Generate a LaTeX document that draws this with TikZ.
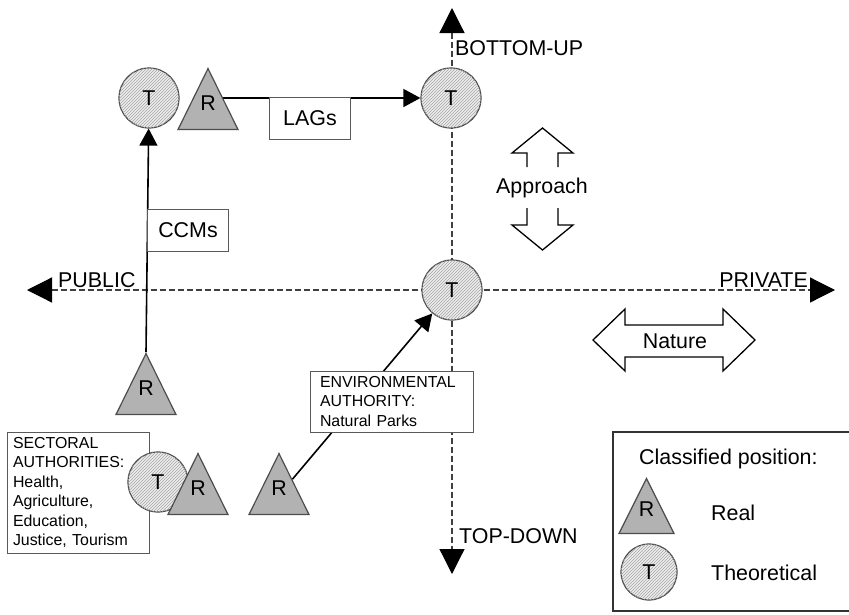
\documentclass[tikz,border=0pt]{standalone}
\usepackage{fontspec}
\setmainfont{Liberation Sans}
\usetikzlibrary{positioning}
\usetikzlibrary{shapes.geometric,arrows.meta,patterns,backgrounds}

\newcommand\lblfont{\fontsize{21.4}{25}\selectfont}
\newcommand\notefont{\fontsize{15.9}{19.5}\selectfont}

\tikzset{
  theo/.style={circle,draw=black!70,line width=1.2pt,fill=black!7,
    postaction={pattern=north east lines,pattern color=black!35},
    minimum size=60pt,inner sep=0pt,font=\lblfont},
  real/.style={isosceles triangle,shape border rotate=90,isosceles triangle stretches,
    draw=black!70,line width=1.2pt,fill=black!30,text depth=14pt,
    minimum width=60pt,minimum height=61pt,inner sep=0pt,font=\lblfont},
  lbl/.style={draw=black!65,line width=1pt,fill=white,font=\lblfont,
    minimum width=81pt,minimum height=42pt},
  note/.style={draw=black!65,line width=1pt,fill=white,font=\notefont,align=left},
  axis/.style={black!75,line width=1.2pt,dash pattern=on 6pt off 3pt,
    arrows={Triangle[length=25pt,width=25pt,color=black]-Triangle[length=25pt,width=25pt,color=black]}},
  conn/.style={line width=1.6pt,-{Triangle[length=17pt,width=18pt]}},
  blockarrow/.style={line width=1.3pt,line join=miter},
}

\begin{document}
\begin{tikzpicture}[x=1pt,y=-1pt]
\useasboundingbox (0,0) rectangle (849,614);

% positions on the two axes
\node[theo] (tbu) at (451,98) {T};
\node[theo] (tmid) at (452,290) {T};
\node[theo] (tpub) at (149,98) {T};
\node[real,anchor=apex] (rlag) at (208,67) {R};
\node[real,anchor=apex] (rpub) at (146,352) {R};

\node[lbl] (lags) at (310,118) {LAGs};
\node[lbl] (ccms) at (188,230) {CCMs};

\node[note,text width=143pt,inner xsep=10pt,minimum height=61pt] (env) at (391.5,401.5)
  {ENVIRONMENTAL\\AUTHORITY:\\Natural Parks};
\node[real,anchor=apex] (renv) at (279,452) {R};

\node[note,text width=130pt,inner xsep=6pt,inner ysep=2pt,minimum height=121pt] (sect) at (78,492.5)
  {SECTORAL\\AUTHORITIES:\\Health,\\Agriculture,\\Education,\\Justice, Tourism};
\node[theo] (tsect) at (158,482) {T};
\node[real,anchor=apex] (rsect) at (198,452) {R};

% axis labels
\node[font=\lblfont,inner sep=0pt,anchor=base west] (pub) at (58,287) {PUBLIC};
\node[font=\lblfont,inner sep=0pt,anchor=base east] (priv) at (808,287) {PRIVATE};
\node[font=\lblfont,inner sep=0pt,anchor=base west] (bup) at (455,55) {BOTTOM-UP};
\node[font=\lblfont,inner sep=0pt,anchor=base west] (tdown) at (459,543) {TOP-DOWN};

\begin{scope}[on background layer]
\coordinate (west) at (27,290);
\coordinate (east) at (835,290);
\coordinate (north) at (452,8);
\coordinate (south) at (452,574);
\draw[axis] (west) -- (east);
\draw[axis] (north) -- (south);
\draw[conn] (rpub.apex) -- (tpub);
\draw[conn] (rlag.center |- tbu) -- (tbu);
\draw[conn] (renv) -- (tmid);
\end{scope}

% approach and nature
\draw[blockarrow] (527,167) -- (527,153) -- (512,153) -- (542.5,128) -- (573,153) -- (558,153) -- (558,167);
\draw[blockarrow] (527,208) -- (527,225) -- (512,225) -- (542.5,250) -- (573,225) -- (558,225) -- (558,208);
\node[font=\lblfont] (appr) at (542,188) {Approach};
\draw[blockarrow] (593,340) -- (625,309) -- (625,325) -- (723,325) -- (723,309) -- (755,340)
  -- (723,371) -- (723,357) -- (625,357) -- (625,371) -- cycle;
\node[font=\lblfont] (nat) at (675,341) {Nature};

% key
\draw[black!80,line width=1.3pt] (613,432) rectangle (870,611);
\node[font=\lblfont,inner sep=0pt,anchor=base west] (keytitle) at (639,464) {Classified position:};
\node[real,anchor=apex,minimum width=55pt,minimum height=55pt] (keyr) at (646.5,477) {R};
\node[font=\lblfont,inner sep=0pt,anchor=base west] (keyreal) at (711,520) {Real};
\node[theo,minimum size=56pt] (keyt) at (649,572) {T};
\node[font=\lblfont,inner sep=0pt,anchor=base west] (keytheo) at (711,580) {Theoretical};
\end{tikzpicture}
\end{document}
